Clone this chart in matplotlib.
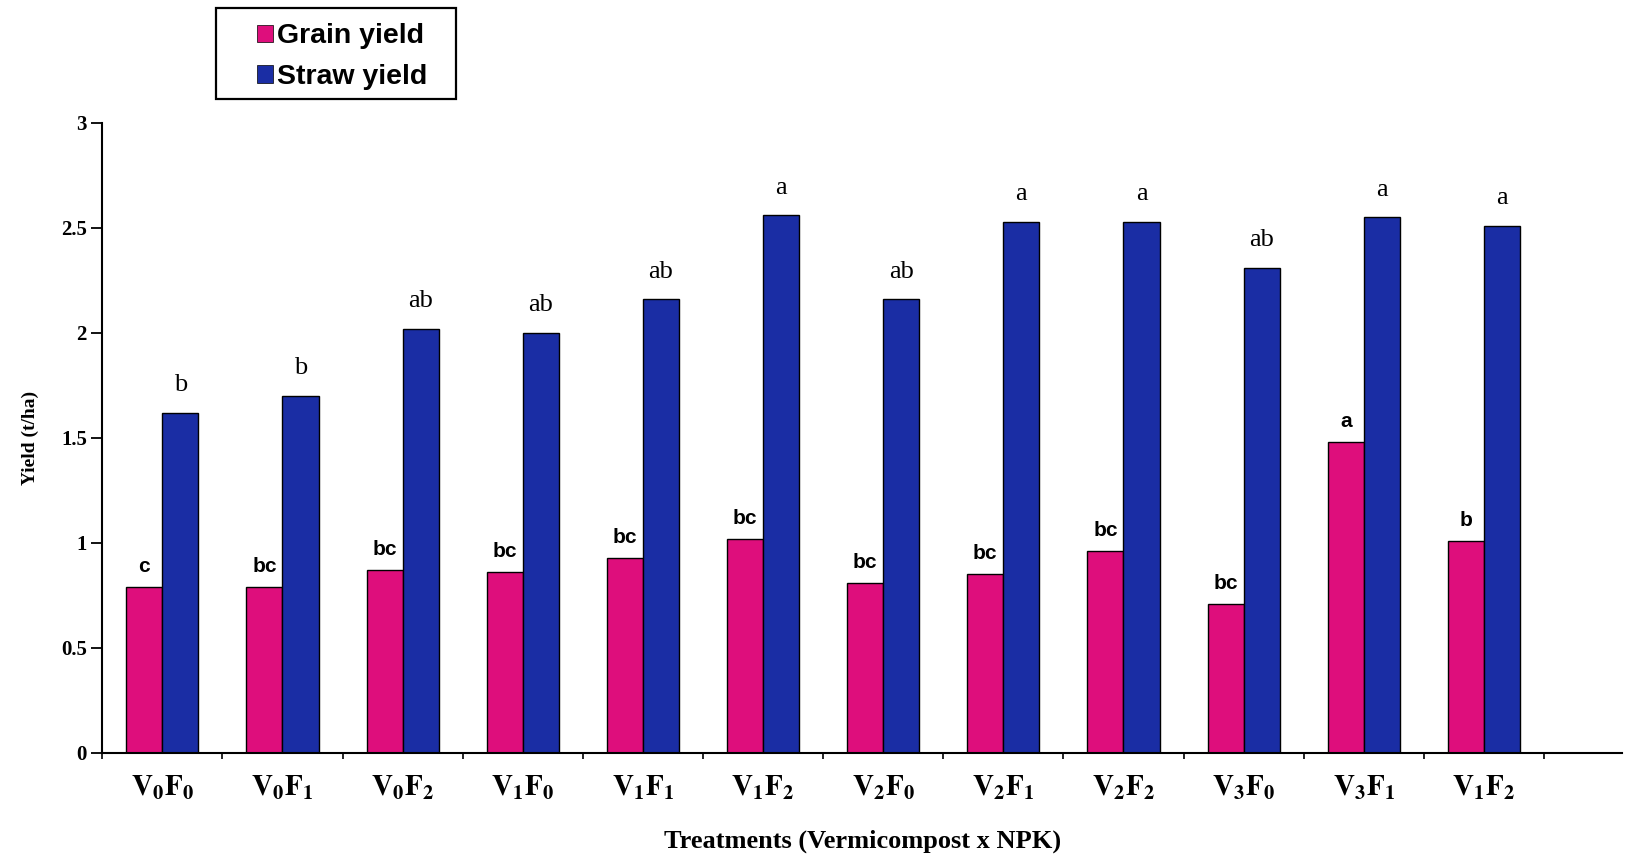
import matplotlib
matplotlib.use("Agg")
import matplotlib.pyplot as plt
from matplotlib.patches import Rectangle
import numpy as np

# Treatments (Vermicompost levels V0-V3 x NPK levels F0-F2)
treatments = [r"$\mathbf{V_0F_0}$", r"$\mathbf{V_0F_1}$", r"$\mathbf{V_0F_2}$",
              r"$\mathbf{V_1F_0}$", r"$\mathbf{V_1F_1}$", r"$\mathbf{V_1F_2}$",
              r"$\mathbf{V_2F_0}$", r"$\mathbf{V_2F_1}$", r"$\mathbf{V_2F_2}$",
              r"$\mathbf{V_3F_0}$", r"$\mathbf{V_3F_1}$", r"$\mathbf{V_1F_2}$"]

grain_yield = [0.79, 0.79, 0.87, 0.86, 0.93, 1.02, 0.81, 0.85, 0.96, 0.71, 1.48, 1.01]
straw_yield = [1.62, 1.70, 2.02, 2.00, 2.16, 2.56, 2.16, 2.53, 2.53, 2.31, 2.55, 2.51]

grain_letters = ["c", "bc", "bc", "bc", "bc", "bc", "bc", "bc", "bc", "bc", "a", "b"]
straw_letters = ["b", "b", "ab", "ab", "ab", "a", "ab", "a", "a", "ab", "a", "a"]

y_ticks = [0, 0.5, 1, 1.5, 2, 2.5, 3]
y_tick_labels = ["0", "0.5", "1", "1.5", "2", "2.5", "3"]

plt.rcParams["mathtext.fontset"] = "stix"

GRAIN_COLOR = "#DE0E7C"
STRAW_COLOR = "#1A2DA4"
SERIF = "Liberation Serif"
SANS = "Liberation Sans"

fig = plt.figure(figsize=(16.36, 8.63), dpi=100)
fig.patch.set_facecolor("white")
ax = fig.add_axes([0.0625, 0.1275, 0.929, 0.73])

x = np.arange(len(treatments))
w = 0.30
gb = ax.bar(x - w / 2, grain_yield, width=w, color=GRAIN_COLOR,
            edgecolor="black", linewidth=1.0, label="Grain yield")
sb = ax.bar(x + w / 2, straw_yield, width=w, color=STRAW_COLOR,
            edgecolor="black", linewidth=1.0, label="Straw yield")

# significance letters
for xi, v, t in zip(x, grain_yield, grain_letters):
    ax.annotate(t, (xi - w / 2, v), xytext=(0, 8), textcoords="offset points",
                ha="center", va="bottom", fontsize=15, fontweight="bold",
                family=SANS)
for xi, v, t in zip(x, straw_yield, straw_letters):
    ax.annotate(t, (xi + w / 2, v), xytext=(0, 12), textcoords="offset points",
                ha="center", va="bottom", fontsize=19, family=SERIF)

ax.set_xlim(-0.5, 12.15)
ax.set_ylim(0, 3)

# y axis
ax.set_yticks(y_ticks)
ax.set_yticklabels(y_tick_labels, fontsize=15, fontweight="bold", family=SERIF)
ax.tick_params(axis="y", direction="out", length=8, width=1.3, pad=3)

# x axis: small ticks at category boundaries, labels at centres
ax.set_xticks(np.arange(-0.5, 12.0, 1.0))
ax.set_xticklabels([])
ax.set_xticks(x, minor=True)
ax.set_xticklabels(treatments, minor=True, fontsize=21)
ax.tick_params(axis="x", which="major", direction="out", length=4, width=1.2)
ax.tick_params(axis="x", which="minor", length=0, pad=15)

for s in ["top", "right"]:
    ax.spines[s].set_visible(False)
for s in ["left", "bottom"]:
    ax.spines[s].set_linewidth(1.5)
    ax.spines[s].set_color("black")

ax.set_ylabel("Yield (t/ha)", fontsize=14, fontweight="bold", family=SERIF,
              labelpad=16)
ax.set_xlabel("Treatments (Vermicompost x NPK)", fontsize=19,
              fontweight="bold", family=SERIF, labelpad=20)

# legend: entries plus a separate rectangular frame
leg = fig.legend(handles=[gb, sb], loc="upper left",
                 bbox_to_anchor=(0.157, 0.973), frameon=False,
                 prop={"family": SANS, "weight": "bold", "size": 20.5},
                 handlelength=0.55, handleheight=0.55, handletextpad=0.15,
                 borderpad=0, labelspacing=0.52, borderaxespad=0)
for h in leg.legend_handles:
    h.set_linewidth(0.5)
fig.patches.append(Rectangle((0.132, 0.8853), 0.1467, 0.1054,
                             transform=fig.transFigure, fill=False,
                             edgecolor="black", linewidth=1.6))

fig.savefig("out.png", dpi=100, facecolor="white")
